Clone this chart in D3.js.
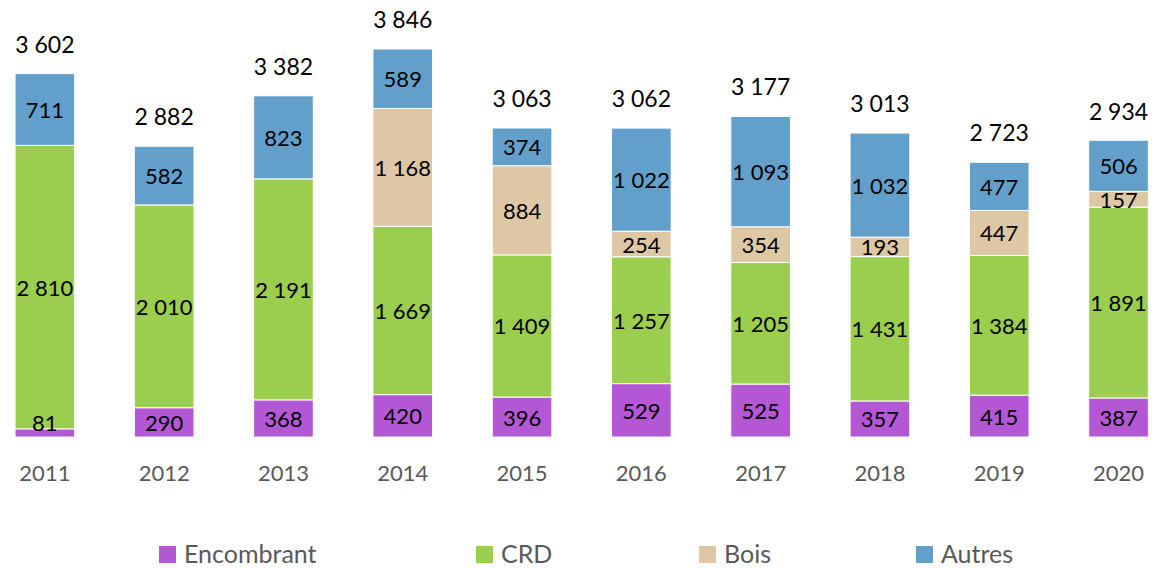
<!DOCTYPE html>
<html lang="fr">
  <head>
    <title>Stacked bars</title>
    <script src="https://d3js.org/d3.v7.min.js"></script>
    <style>
      body {
        margin: 0;
        background: #fff;
      }

      svg text {
        font-family: Lato, "Open Sans", sans-serif;
      }

      .seg-label {
        fill: #000;
        font-size: 22px;
      }

      .total-label {
        fill: #000;
        font-size: 23px;
      }

      .year-label {
        fill: #595959;
        font-size: 22px;
      }

      .legend-label {
        fill: #595959;
        font-size: 25px;
      }
    </style>
  </head>
  <body>
    <script>
      const years = ['2011', '2012', '2013', '2014', '2015', '2016', '2017', '2018', '2019', '2020'];
      const seriesNames = ['Encombrant', 'CRD', 'Bois', 'Autres'];
      const encombrant = [81, 290, 368, 420, 396, 529, 525, 357, 415, 387];
      const crd = [2810, 2010, 2191, 1669, 1409, 1257, 1205, 1431, 1384, 1891];
      const bois = [0, 0, 0, 1168, 884, 254, 354, 193, 447, 157];
      const autres = [711, 582, 823, 589, 374, 1022, 1093, 1032, 477, 506];
      // totals as printed on the chart
      const totals = [3602, 2882, 3382, 3846, 3063, 3062, 3177, 3013, 2723, 2934];
      const colors = ['#b357d4', '#9bce4e', '#dec7a5', '#62a0cb'];

      const w = 1154;
      const h = 569;
      const baseline = 437;
      const fmt = v => d3.format(',')(v).replace(/,/g, ' ');

      const rows = years.map((y, i) => ({
        year: y,
        total: totals[i],
        Encombrant: encombrant[i],
        CRD: crd[i],
        Bois: bois[i],
        Autres: autres[i]
      }));

      const stacked = d3.stack().keys(seriesNames)(rows);

      const xScale = d3.scaleBand()
                       .domain(years)
                       .range([-44.6, 1208])
                       .padding(0.5);

      const yScale = d3.scaleLinear()
                       .domain([0, 3846])
                       .range([baseline, 49]);

      const svg = d3.select('body')
                    .append('svg')
                    .attr('width', w)
                    .attr('height', h);

      const layers = svg.selectAll('g.layer')
                        .data(stacked)
                        .enter()
                        .append('g')
                        .attr('class', 'layer')
                        .attr('fill', (d, i) => colors[i]);

      layers.selectAll('rect')
            .data(d => d.filter(s => s[1] - s[0] > 0))
            .enter()
            .append('rect')
             .attr('x', d => xScale(d.data.year))
             .attr('y', d => yScale(d[1]))
             .attr('width', xScale.bandwidth())
             .attr('height', d => yScale(d[0]) - yScale(d[1]))
             .attr('stroke', '#fff')
             .attr('stroke-width', 1);

      // segment values on top of every rect, kept inside the plot area
      const labels = svg.append('g');
      stacked.forEach(layer => {
        labels.selectAll(null)
              .data(layer.filter(s => s[1] - s[0] > 0))
              .enter()
              .append('text')
               .attr('class', 'seg-label')
               .attr('text-anchor', 'middle')
               .attr('dominant-baseline', 'central')
               .attr('x', d => xScale(d.data.year) + xScale.bandwidth() / 2)
               .attr('y', d => Math.min((yScale(d[0]) + yScale(d[1])) / 2, baseline - 15))
               .text(d => fmt(d[1] - d[0]));
      });

      // totals
      svg.selectAll('.total-label')
         .data(rows)
         .enter()
         .append('text')
          .attr('class', 'total-label')
          .attr('text-anchor', 'middle')
          .attr('dominant-baseline', 'central')
          .attr('x', d => xScale(d.year) + xScale.bandwidth() / 2)
          .attr('y', d => yScale(d.total) - 30)
          .text(d => fmt(d.total));

      const xAxis = d3.axisBottom(xScale).tickSize(0).tickPadding(0);

      svg.append('g')
         .attr('transform', `translate(0, ${baseline})`)
         .call(xAxis)
         .call(g => g.select('.domain').remove())
         .selectAll('text')
          .attr('class', 'year-label')
          .attr('font-size', null)
          .attr('font-family', null)
          .attr('fill', null)
          .attr('dy', null)
          .attr('y', 35)
          .attr('dominant-baseline', 'central');

      // legend
      const legendX = [159, 476, 699, 916];
      const legend = svg.selectAll('.legend')
                        .data(seriesNames)
                        .enter()
                        .append('g')
                        .attr('class', 'legend')
                        .attr('transform', (d, i) => `translate(${legendX[i]}, 546)`);

      legend.append('rect')
            .attr('width', 17)
            .attr('height', 17)
            .attr('fill', (d, i) => colors[i]);

      legend.append('text')
            .attr('class', 'legend-label')
            .attr('x', 25)
            .attr('y', 7)
            .attr('dominant-baseline', 'central')
            .text(d => d);
    </script>
  </body>
</html>
